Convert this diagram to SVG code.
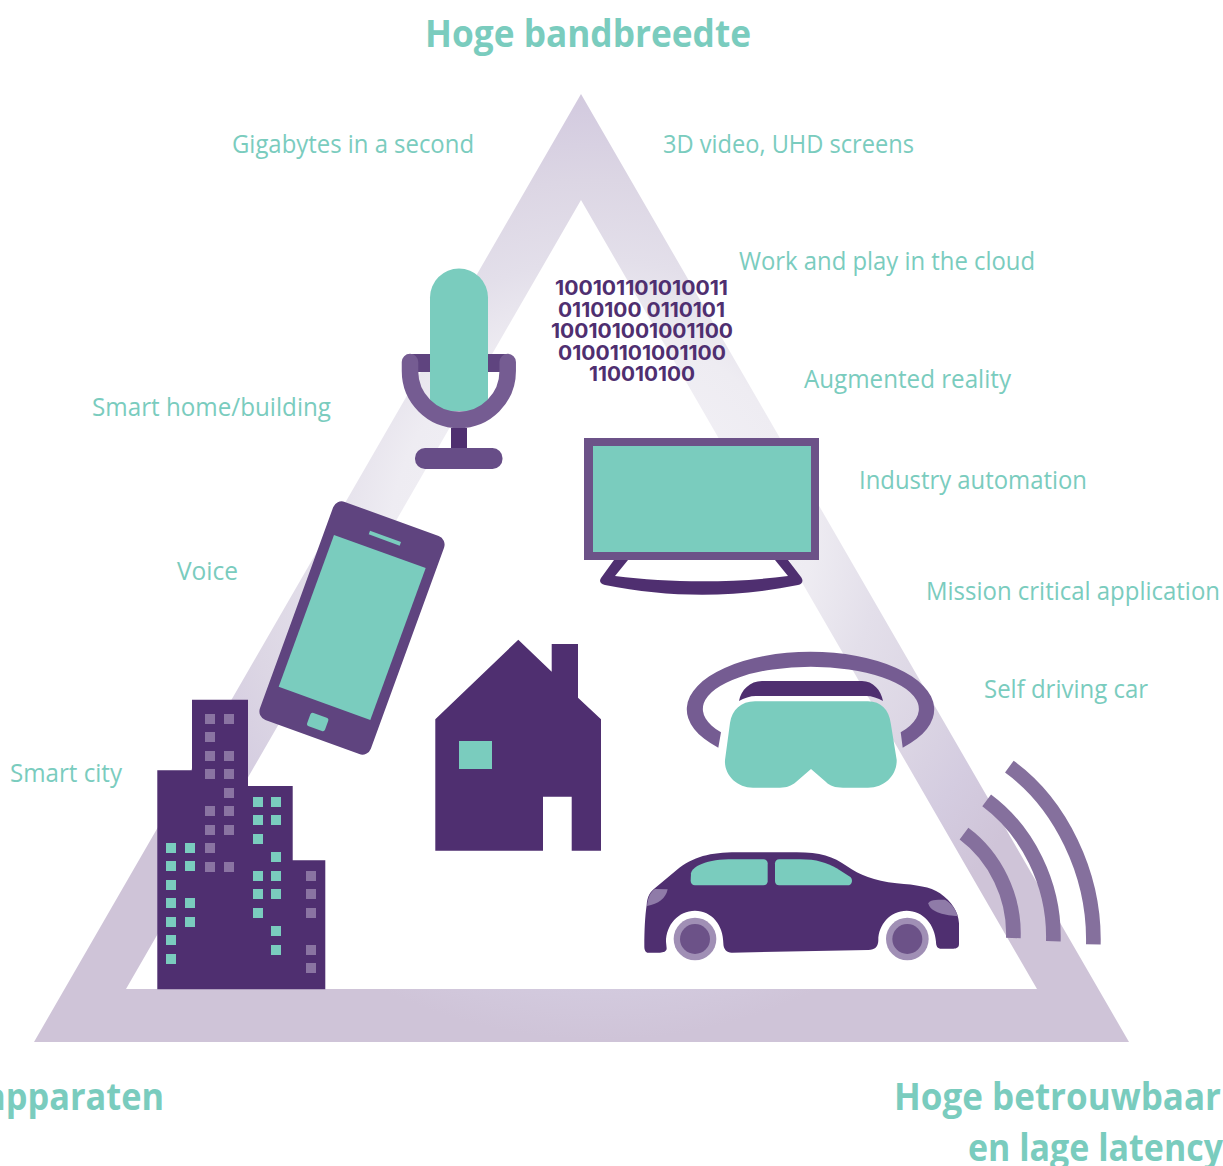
<svg xmlns="http://www.w3.org/2000/svg" width="1223" height="1166" viewBox="0 0 1223 1166">
<style>
.h{font-family:"Open Sans","Noto Sans",sans-serif;font-weight:700;font-size:37px;fill:#7accbe}
.l{font-family:"Open Sans","Noto Sans",sans-serif;font-weight:400;font-size:25px;fill:#7accbe}
.b{font-family:"Inter","Liberation Sans",sans-serif;font-weight:700;font-size:20px;fill:#4f2f70}
.d{fill:#4f2f70}.t{fill:#7accbe}.w{fill:#8a74a2}
.arc{fill:none;stroke:#85709d;stroke-width:44}
</style>
<defs>
<radialGradient id="tg" gradientUnits="userSpaceOnUse" cx="600" cy="540" r="500">
<stop offset="0" stop-color="#f6f5f9"/><stop offset=".42" stop-color="#eeecf2"/><stop offset=".56" stop-color="#e3dfea"/><stop offset=".72" stop-color="#dcd6e4"/><stop offset=".86" stop-color="#d4cce0"/><stop offset="1" stop-color="#cfc4d8"/>
</radialGradient>
</defs>
<g id="triangle"><path fill="url(#tg)" fill-rule="evenodd" d="M581 94L1129 1042H34ZM581 200L126 989H1037Z"/></g>
<g id="labels">
<text class="h" x="425" y="47" textLength="326" lengthAdjust="spacingAndGlyphs">Hoge bandbreedte</text>
<text class="h" x="-15" y="1110" textLength="179" lengthAdjust="spacingAndGlyphs">apparaten</text>
<text class="h" x="894" y="1110" textLength="327" lengthAdjust="spacingAndGlyphs">Hoge betrouwbaar</text>
<text class="h" x="968" y="1161" textLength="255" lengthAdjust="spacingAndGlyphs">en lage latency</text>
<text class="l" x="232" y="153" textLength="242" lengthAdjust="spacingAndGlyphs">Gigabytes in a second</text>
<text class="l" x="663" y="153" textLength="251" lengthAdjust="spacingAndGlyphs">3D video, UHD screens</text>
<text class="l" x="739" y="270" textLength="296" lengthAdjust="spacingAndGlyphs">Work and play in the cloud</text>
<text class="l" x="804" y="388" textLength="207" lengthAdjust="spacingAndGlyphs">Augmented reality</text>
<text class="l" x="859" y="489" textLength="228" lengthAdjust="spacingAndGlyphs">Industry automation</text>
<text class="l" x="926" y="600" textLength="294" lengthAdjust="spacingAndGlyphs">Mission critical application</text>
<text class="l" x="984" y="698" textLength="164" lengthAdjust="spacingAndGlyphs">Self driving car</text>
<text class="l" x="92" y="416" textLength="239" lengthAdjust="spacingAndGlyphs">Smart home/building</text>
<text class="l" x="177" y="580" textLength="61" lengthAdjust="spacingAndGlyphs">Voice</text>
<text class="l" x="10" y="782" textLength="112" lengthAdjust="spacingAndGlyphs">Smart city</text>
</g>
<g id="binary">
<text class="b" x="555" y="294.700" textLength="173" lengthAdjust="spacingAndGlyphs">100101101010011</text>
<text class="b" x="558" y="316.500" textLength="167" lengthAdjust="spacingAndGlyphs">0110100 0110101</text>
<text class="b" x="551" y="337.800" textLength="182" lengthAdjust="spacingAndGlyphs">100101001001100</text>
<text class="b" x="558" y="359.500" textLength="168" lengthAdjust="spacingAndGlyphs">01001101001100</text>
<text class="b" x="589" y="380.800" textLength="106" lengthAdjust="spacingAndGlyphs">110010100</text>
</g>
<g id="microphone">
<rect x="410" y="354" width="98" height="18" fill="#5f447f"/>
<path class="t" d="M430 297.500A29 29 0 0 1 488 297.500V411H430Z"/>
<path fill="none" stroke="#755c92" stroke-width="16.500" d="M410 362V371A48.800 48.800 0 0 0 507.700 371V362" stroke-linecap="round"/>
<rect class="d" x="451" y="428" width="16" height="22"/>
<rect x="415" y="448" width="87.500" height="21" rx="10" fill="#674d87"/>
</g>
<g id="tv">
<path class="d" d="M614 560H628L615 576C670 583 735 583 788 576L775 560H788L801 577C804 581 802 584 798 585C735 598 670 598 605 585C600 584 599 581 601 578Z"/>
<rect x="584" y="438" width="235" height="122" fill="#6c5288"/>
<rect class="t" x="593" y="446" width="218" height="106"/>
</g>
<g id="phone">
<rect x="293" y="512" width="118" height="232" rx="9" fill="#5f447f" transform="rotate(20 352 628)"/>
<path class="t" d="M334 535L425.700 568L370.300 720L278.700 686.700Z"/>
<path class="t" d="M370 530.700L401 542L399.700 545.700L368.700 534.300Z"/>
<rect class="t" x="308.200" y="715" width="19" height="14" rx="2.500" transform="rotate(20 317.700 722)"/>
</g>
<g id="house">
<path class="d" d="M518.300 639.700L551.700 671.700V644H578V697.700L601 719.300V850.700H571.700V796.700H543V850.700H435.300V719.300Z"/>
<rect class="t" x="459" y="741" width="33" height="28"/>
</g>
<g id="city">
<path class="d" d="M192 699.700H248V786H292.700V860.300H325.300V989.300H157.300V770.300H192Z"/>
<g class="w">
<rect x="205" y="714" width="10" height="10"/><rect x="224" y="714" width="10" height="10"/>
<rect x="205" y="732" width="10" height="10"/>
<rect x="205" y="751" width="10" height="10"/><rect x="224" y="751" width="10" height="10"/>
<rect x="205" y="769" width="10" height="10"/><rect x="224" y="769" width="10" height="10"/>
<rect x="224" y="788" width="10" height="10"/>
<rect x="205" y="806" width="10" height="10"/><rect x="224" y="806" width="10" height="10"/>
<rect x="205" y="825" width="10" height="10"/><rect x="224" y="825" width="10" height="10"/>
<rect x="205" y="843" width="10" height="10"/>
<rect x="205" y="862" width="10" height="10"/><rect x="224" y="862" width="10" height="10"/>
<rect x="306" y="871" width="10" height="10"/><rect x="306" y="889" width="10" height="10"/><rect x="306" y="908" width="10" height="10"/><rect x="306" y="945" width="10" height="10"/><rect x="306" y="963" width="10" height="10"/>
</g>
<g class="t">
<rect x="166" y="843" width="10" height="10"/><rect x="185" y="843" width="10" height="10"/>
<rect x="166" y="861" width="10" height="10"/><rect x="185" y="861" width="10" height="10"/>
<rect x="166" y="880" width="10" height="10"/>
<rect x="166" y="898" width="10" height="10"/><rect x="185" y="898" width="10" height="10"/>
<rect x="166" y="917" width="10" height="10"/><rect x="185" y="917" width="10" height="10"/>
<rect x="166" y="935" width="10" height="10"/><rect x="166" y="954" width="10" height="10"/>
<rect x="253" y="797" width="10" height="10"/><rect x="271" y="797" width="10" height="10"/>
<rect x="253" y="815" width="10" height="10"/><rect x="271" y="815" width="10" height="10"/>
<rect x="253" y="834" width="10" height="10"/><rect x="271" y="852" width="10" height="10"/>
<rect x="253" y="871" width="10" height="10"/><rect x="271" y="871" width="10" height="10"/>
<rect x="253" y="889" width="10" height="10"/><rect x="271" y="889" width="10" height="10"/>
<rect x="253" y="908" width="10" height="10"/><rect x="271" y="926" width="10" height="10"/><rect x="271" y="945" width="10" height="10"/>
</g>
</g>
<g id="vr">
<path fill="#755c92" d="M718.300 747.700A123.700 57.500 0 1 1 902.700 747.700L900.700 732.300A108 42.200 0 1 0 721 732.300Z"/>
<path class="d" d="M739 701C741 690 750 681 762 681H862C873 681 881 690 883 701C878 698 872 696 866 696H756C750 696 744 698 739 701Z"/>
<path class="t" d="M755 701.300H868C881 701.300 889 710 890.700 723L896.700 760C897 775 885 787.700 868 787.700H843C835 787.700 830 786 826 782L811 769L796 782C791 786 787 787.700 780 787.700H753C737 787.700 724 775 725 760L730 723C732 710 741 701.300 755 701.300Z"/>
</g>
<g id="car" transform="translate(630 640) scale(.33333)">
<path class="d" d="M43 920C43 870 45 830 50 795C52 770 60 755 78 742L140 690C190 650 240 637 320 637L500 637C570 637 610 650 650 678C690 705 730 722 800 730C860 735 900 740 930 760C965 785 985 815 987 850L987 912C987 922 980 926 970 926L935 926C922 926 918 918 918 905C915 855 880 812 830 812C780 812 745 855 745 900C745 920 735 930 715 930L305 938C290 938 280 928 280 910C280 855 245 812 195 812C145 812 108 855 108 905L110 925C110 935 100 938 90 938L55 938C47 938 43 930 43 920Z"/>
<path class="t" d="M183 700C185 690 195 680 215 672C240 662 270 658 310 658L400 658C408 658 413 663 413 670L413 724C413 731 408 736 400 736L195 736C187 736 182 730 182 722Z"/>
<path class="t" d="M435 670C435 663 440 658 448 658L510 658C560 658 590 668 620 685L660 710C668 716 668 728 660 734C657 736 650 736 645 736L447 736C440 736 435 731 435 724Z"/>
<path fill="#8f7ba8" d="M75 747L113 748C108 775 85 792 51 798C53 775 60 757 75 747Z"/>
<path fill="#8f7ba8" d="M895 790C898 780 915 779 945 779C965 790 978 810 983 828C950 828 900 818 895 790Z"/>
<circle cx="195" cy="897" r="64" fill="#a08fb5"/><circle cx="195" cy="897" r="45" fill="#6c5288"/>
<circle cx="832" cy="897" r="64" fill="#a08fb5"/><circle cx="832" cy="897" r="45" fill="#6c5288"/>
</g>
<g id="signal" transform="translate(630 640) scale(.33333)">
<path class="arc" d="M1002 581C1095 650 1155 770 1150 894"/>
<path class="arc" d="M1070 481C1190 570 1275 730 1270 904"/>
<path class="arc" d="M1138 380C1290 490 1395 700 1390 913"/>
</g>
</svg>
